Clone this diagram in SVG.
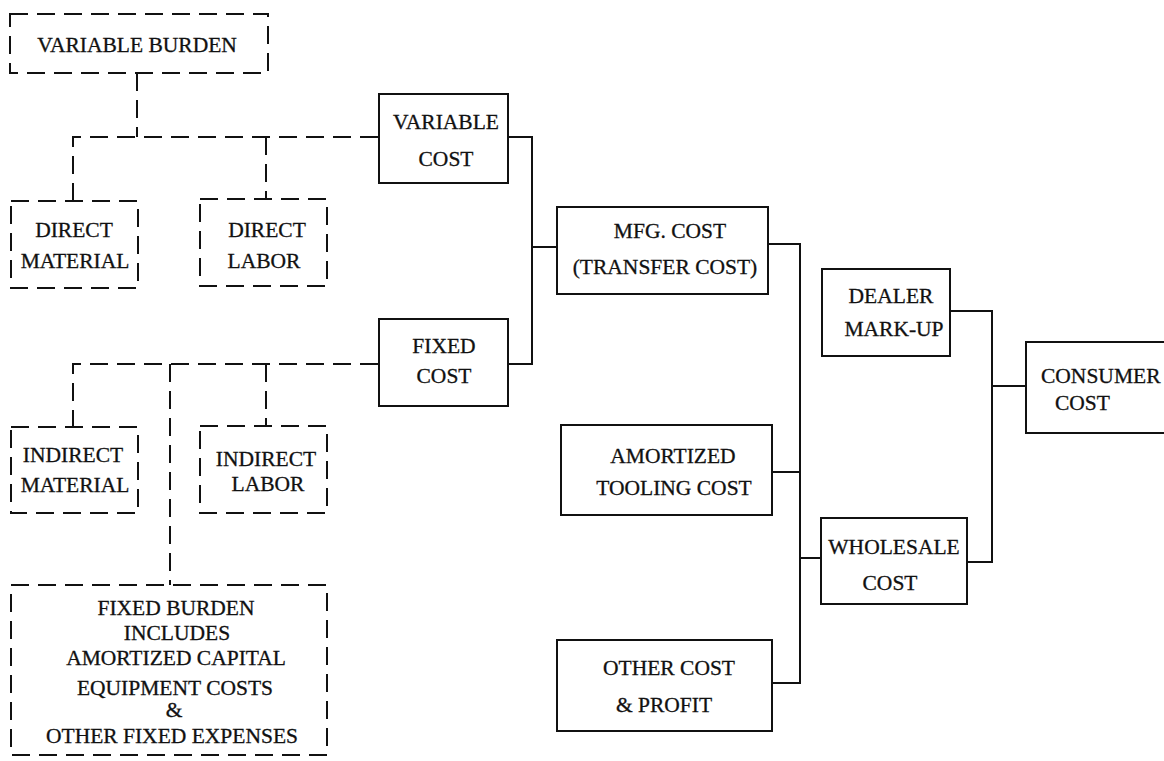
<svg xmlns="http://www.w3.org/2000/svg" width="1164" height="761" viewBox="0 0 1164 761">
<style>
  .box { fill: none; stroke: #111; stroke-width: 2; }
  .dbox { fill: none; stroke: #111; stroke-width: 2; stroke-dasharray: 18 9; }
  .ln { fill: none; stroke: #111; stroke-width: 2; }
  .dln { fill: none; stroke: #111; stroke-width: 2; stroke-dasharray: 18 9; }
  text { font-family: "Liberation Serif", "Times New Roman", serif; font-size: 21.5px; fill: #111; stroke: #111; stroke-width: 0.3; text-anchor: middle; }
</style>
<rect width="1164" height="761" fill="#ffffff"/>

<g id="connectors">
  <path class="dln" d="M137 73 V137"/>
  <path class="dln" d="M378 137 H73 V201"/>
  <path class="dln" d="M266 137 V199"/>
  <path class="dln" d="M378 364 H73 V427"/>
  <path class="dln" d="M266 364 V426"/>
  <path class="dln" d="M170 364 V585"/>
  <path class="ln" d="M508 137 H532 V364 H508"/>
  <path class="ln" d="M532 247 H557"/>
  <path class="ln" d="M768 244 H800 V683 H772"/>
  <path class="ln" d="M772 472 H800"/>
  <path class="ln" d="M800 558 H821"/>
  <path class="ln" d="M950 311 H992 V562 H967"/>
  <path class="ln" d="M992 386 H1026"/>
</g>

<g id="variable-burden">
  <rect class="dbox" x="10" y="14" width="258" height="59"/>
  <text x="137" y="52">VARIABLE BURDEN</text>
</g>
<g id="direct-material">
  <rect class="dbox" x="11" y="201" width="127" height="87"/>
  <text x="74" y="237">DIRECT</text>
  <text x="75" y="268">MATERIAL</text>
</g>
<g id="direct-labor">
  <rect class="dbox" x="200" y="199" width="127" height="87"/>
  <text x="267" y="237">DIRECT</text>
  <text x="264" y="268">LABOR</text>
</g>
<g id="indirect-material">
  <rect class="dbox" x="11" y="427" width="127" height="86"/>
  <text x="73" y="462">INDIRECT</text>
  <text x="75" y="492">MATERIAL</text>
</g>
<g id="indirect-labor">
  <rect class="dbox" x="200" y="426" width="127" height="87"/>
  <text x="266" y="466">INDIRECT</text>
  <text x="268" y="491">LABOR</text>
</g>
<g id="fixed-burden">
  <rect class="dbox" x="11" y="585" width="316" height="170"/>
  <text x="176" y="615">FIXED BURDEN</text>
  <text x="177" y="640">INCLUDES</text>
  <text x="176" y="665">AMORTIZED CAPITAL</text>
  <text x="175" y="695">EQUIPMENT COSTS</text>
  <text x="174" y="717">&amp;</text>
  <text x="172" y="743">OTHER FIXED EXPENSES</text>
</g>

<g id="variable-cost">
  <rect class="box" x="379" y="94" width="129" height="89"/>
  <text x="446" y="129">VARIABLE</text>
  <text x="446" y="166">COST</text>
</g>
<g id="fixed-cost">
  <rect class="box" x="379" y="319" width="129" height="87"/>
  <text x="444" y="353">FIXED</text>
  <text x="444" y="383">COST</text>
</g>
<g id="mfg-cost">
  <rect class="box" x="557" y="207" width="211" height="87"/>
  <text x="670" y="238">MFG. COST</text>
  <text x="665" y="274">(TRANSFER COST)</text>
</g>
<g id="amortized-tooling">
  <rect class="box" x="561" y="425" width="211" height="90"/>
  <text x="673" y="463">AMORTIZED</text>
  <text x="674" y="495">TOOLING COST</text>
</g>
<g id="other-cost">
  <rect class="box" x="557" y="640" width="215" height="91"/>
  <text x="669" y="675">OTHER COST</text>
  <text x="664" y="712">&amp; PROFIT</text>
</g>
<g id="dealer-markup">
  <rect class="box" x="822" y="269" width="128" height="87"/>
  <text x="891" y="303">DEALER</text>
  <text x="894" y="336">MARK-UP</text>
</g>
<g id="wholesale-cost">
  <rect class="box" x="821" y="518" width="146" height="86"/>
  <text x="894" y="554">WHOLESALE</text>
  <text x="890" y="590">COST</text>
</g>
<g id="consumer-cost">
  <rect class="box" x="1026" y="342" width="150" height="91"/>
  <text x="1041" y="383" style="text-anchor:start">CONSUMER</text>
  <text x="1055" y="410" style="text-anchor:start">COST</text>
</g>
</svg>
